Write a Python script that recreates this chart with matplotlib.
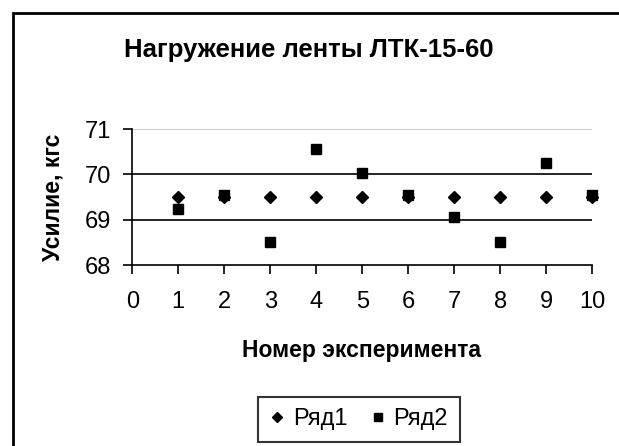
import matplotlib
matplotlib.use('Agg')
import matplotlib.pyplot as plt
from matplotlib.patches import Rectangle

plt.rcParams['font.family'] = ['Liberation Sans', 'DejaVu Sans']

# ── Data ──
experiments = [1, 2, 3, 4, 5, 6, 7, 8, 9, 10]
series1 = [69.5, 69.5, 69.5, 69.5, 69.5, 69.5, 69.5, 69.5, 69.5, 69.5]
series2 = [69.23, 69.55, 68.5, 70.55, 70.03, 69.55, 69.05, 68.5, 70.25, 69.55]
series_names = ['Ряд1', 'Ряд2']
xticks = list(range(0, 11))
yticks = [68, 69, 70, 71]

fig = plt.figure(figsize=(6.19, 4.46), dpi=100)
ax = fig.add_axes([0.2137, 0.4058, 0.7432, 0.3049])

# chart-area border (runs off the right/bottom edge, as in the reference)
fig.patches.append(Rectangle((13 / 619, -0.1), 1.2, 1 - 13 / 446 + 0.1,
                             transform=fig.transFigure, fill=False,
                             edgecolor='black', lw=2.0, zorder=0))

# gridlines
for y in yticks[1:]:
    ax.axhline(y, color='#bbbbbb' if y == yticks[-1] else 'black', lw=1.2, zorder=1)

ax.plot(experiments, series1, 'D', color='black', ms=6.3, ls='none',
        label=series_names[0], zorder=3, clip_on=False)
ax.plot(experiments, series2, 's', color='black', ms=7.8, ls='none',
        label=series_names[1], zorder=3, clip_on=False)

ax.set_xlim(0, 10)
ax.set_ylim(68, 71)
ax.set_xticks(xticks)
ax.set_yticks(yticks)
ax.tick_params(axis='both', direction='out', length=6.5, width=1.2,
               labelsize=17, color='black')
ax.tick_params(axis='x', pad=12)
ax.tick_params(axis='y', pad=9)

for side in ['top', 'right']:
    ax.spines[side].set_visible(False)
for side in ['left', 'bottom']:
    ax.spines[side].set_linewidth(1.2)

fig.text(309 / 619, 1 - 50 / 446, 'Нагружение ленты ЛТК-15-60', ha='center', va='center',
         fontsize=18.5, fontweight='bold')
fig.text(361 / 619, 1 - 351 / 446, 'Номер эксперимента', ha='center', va='center',
         fontsize=16.5, fontweight='bold')
fig.text(53 / 619, 1 - 197 / 446, 'Усилие, кгс', ha='center', va='center',
         rotation=90, fontsize=16.5, fontweight='bold')

leg = fig.legend(loc='center', bbox_to_anchor=(359 / 619, 1 - 419.5 / 446),
                 ncol=2, fontsize=17, frameon=True, fancybox=False,
                 edgecolor='black', handlelength=0.6, handletextpad=0.35,
                 columnspacing=1.0, borderpad=0.5, borderaxespad=0,
                 markerscale=0.8)
leg.get_frame().set_linewidth(1.5)

fig.savefig('out.png', dpi=100, facecolor='white')
